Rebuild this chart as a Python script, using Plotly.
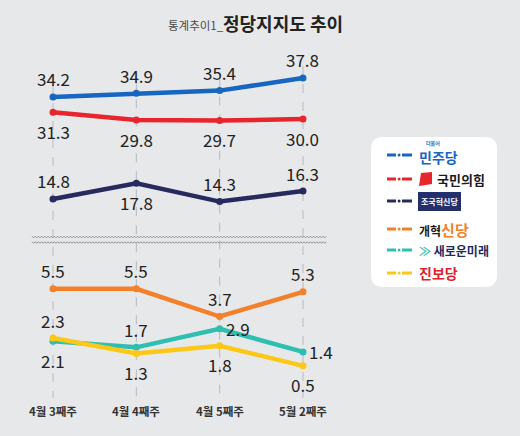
import plotly.graph_objects as go

# ---------------- data ----------------
categories = ["4월 3째주", "4월 4째주", "4월 5째주", "5월 2째주"]
parties = ["민주당", "국민의힘", "조국혁신당", "개혁신당", "새로운미래", "진보당"]
minju = [34.2, 34.9, 35.4, 37.8]
ppp = [31.3, 29.8, 29.7, 30.0]
jokuk = [14.8, 17.8, 14.3, 16.3]
gaehyuk = [5.5, 5.5, 3.7, 5.3]
saeroun = [2.1, 1.7, 2.9, 1.4]
jinbo = [2.3, 1.3, 1.8, 0.5]
title_small = "통계추이1_"
title_main = "정당지지도 추이"

# ---------------- style ----------------
W, H = 520, 436
BG = "#e7e8ea"
colors = {"민주당": "#1766c0", "국민의힘": "#e8252d", "조국혁신당": "#262a5c",
          "개혁신당": "#f3802a", "새로운미래": "#2fbfb0", "진보당": "#fcc817"}
FONT = "Noto Sans CJK KR"

def px(x):
    return x / W

def py(y):
    return 1 - y / H

# axes geometry (pixels)
X0_PIX, XSTEP = 53.0, 83.33
xr = [-X0_PIX / XSTEP, (W - X0_PIX) / XSTEP]
TOP_DOM = (60, 215)
TOP_RANGE = [11.75, 41.22]
BOT_DOM = (245, 380)
BOT_RANGE = [-0.42, 8.34]

def top_pix(v):
    return TOP_DOM[1] - (v - TOP_RANGE[0]) / (TOP_RANGE[1] - TOP_RANGE[0]) * (TOP_DOM[1] - TOP_DOM[0])

xs = list(range(len(categories)))
series_top = [("민주당", minju, ["a", "a", "a", "a"]),
              ("국민의힘", ppp, ["b", "b", "b", "b"]),
              ("조국혁신당", jokuk, ["a", "b", "a", "a"])]
series_bot = [("개혁신당", gaehyuk, ["a", "a", "a", "a"]),
              ("새로운미래", saeroun, ["b", "a", "r", "r"]),
              ("진보당", jinbo, ["a", "b", "b", "b"])]

fig = go.Figure()
annotations = []
shapes = []

# gridlines
for i in xs:
    shapes.append(dict(type="line", xref="x", yref="paper", x0=i, x1=i,
                       y0=py(top_pix(minju[i]) - 12), y1=py(398),
                       line=dict(color="#b9babd", width=1, dash="dash"), layer="below"))

def add_series(name, vals, pos, xa, ya):
    fig.add_trace(go.Scatter(x=xs, y=vals, mode="lines+markers", name=name,
                             line=dict(color=colors[name], width=4.5),
                             marker=dict(color=colors[name], size=7),
                             xaxis=xa, yaxis=ya, showlegend=False))
    for i, v in enumerate(vals):
        p = pos[i]
        ys = 18 if p == "a" else (-19 if p == "b" else 0)
        xsh = 18 if p == "r" else 0
        annotations.append(dict(x=i, y=v, xref=xa, yref=ya, text=f"{v:.1f}",
                                showarrow=False, yshift=ys, xshift=xsh,
                                font=dict(family=FONT, size=17, color="#222")))

for name, vals, pos in series_top:
    add_series(name, vals, pos, "x", "y")
for name, vals, pos in series_bot:
    add_series(name, vals, pos, "x2", "y2")

# x category labels
for i, c in enumerate(categories):
    annotations.append(dict(x=i, y=py(411), xref="x", yref="paper", text=f"<b>{c}</b>",
                            showarrow=False, yanchor="middle",
                            font=dict(family=FONT, size=11.5, color="#333")))

# axis break (zigzag double line)
for yb in (237, 242.5):
    pts = []
    x = 32.0
    k = 0
    while x <= 327:
        pts.append(f"{px(x):.5f},{py(yb + (0.8 if k % 2 else -0.8)):.5f}")
        x += 1.6
        k += 1
    shapes.append(dict(type="path", xref="paper", yref="paper",
                       path="M" + " L".join(pts),
                       line=dict(color="#8e8f92", width=1)))

# title
annotations.append(dict(x=px(226), y=py(25), xref="paper", yref="paper", showarrow=False,
                        text=title_small, xanchor="right", yanchor="middle",
                        font=dict(family=FONT, size=11.5, color="#4a4a4a")))
annotations.append(dict(x=px(221), y=py(23), xref="paper", yref="paper", showarrow=False,
                        text=f"<b>{title_main}</b>", xanchor="left", yanchor="middle",
                        font=dict(family=FONT, size=18, color="#222")))

# legend box (rounded)
lx0, lx1, ly0, ly1, r = 371, 497, 137, 287, 12
path = (f"M{px(lx0 + r)},{py(ly0)} L{px(lx1 - r)},{py(ly0)} "
        f"Q{px(lx1)},{py(ly0)} {px(lx1)},{py(ly0 + r)} L{px(lx1)},{py(ly1 - r)} "
        f"Q{px(lx1)},{py(ly1)} {px(lx1 - r)},{py(ly1)} L{px(lx0 + r)},{py(ly1)} "
        f"Q{px(lx0)},{py(ly1)} {px(lx0)},{py(ly1 - r)} L{px(lx0)},{py(ly0 + r)} "
        f"Q{px(lx0)},{py(ly0)} {px(lx0 + r)},{py(ly0)} Z")
shapes.append(dict(type="path", xref="paper", yref="paper", path=path,
                   fillcolor="white", line=dict(width=0), layer="below"))

rows = [155, 179, 201, 229, 250, 273]
for name, yr in zip(parties, rows):
    c = colors[name]
    for a, b in ((387, 396), (402, 412)):
        shapes.append(dict(type="line", xref="paper", yref="paper",
                           x0=px(a), x1=px(b), y0=py(yr), y1=py(yr),
                           line=dict(color=c, width=3)))
    shapes.append(dict(type="circle", xref="paper", yref="paper",
                       x0=px(397.6), x1=px(400.6), y0=py(yr - 1.5), y1=py(yr + 1.5),
                       fillcolor=c, line=dict(width=0)))

def leg_text(x, y, text, size=13, color="#222"):
    annotations.append(dict(x=px(x), y=py(y), xref="paper", yref="paper", text=text,
                            showarrow=False, xanchor="left", yanchor="middle",
                            font=dict(family=FONT, size=size, color=color)))

# 민주당
leg_text(424, rows[0] - 12, "<b>더불어</b>", size=5, color=colors["민주당"])
leg_text(417, rows[0] + 2, f"<b>{parties[0]}</b>", size=14, color=colors["민주당"])
# 국민의힘
shapes.append(dict(type="path", xref="paper", yref="paper",
                   path=f"M{px(421)},{py(rows[1] - 6)} L{px(432)},{py(rows[1] - 7)} "
                        f"L{px(432)},{py(rows[1] + 5)} L{px(419)},{py(rows[1] + 7)} Z",
                   fillcolor=colors["국민의힘"], line=dict(width=0)))
leg_text(435, rows[1], f"<b>{parties[1]}</b>", size=13, color="#1b1b1b")
# 조국혁신당
shapes.append(dict(type="rect", xref="paper", yref="paper",
                   x0=px(418), x1=px(461), y0=py(rows[2] - 9), y1=py(rows[2] + 10),
                   fillcolor="#24306e", line=dict(width=0)))
annotations.append(dict(x=px(439.5), y=py(rows[2]), xref="paper", yref="paper",
                        text=f"<b>{parties[2]}</b>", showarrow=False,
                        xanchor="center", yanchor="middle",
                        font=dict(family=FONT, size=8, color="white")))
# 개혁신당
leg_text(417, rows[3], f'<b>{parties[3][:2]}<span style="color:{colors["개혁신당"]};font-size:15px">'
                       f'{parties[3][2:]}</span></b>', size=12, color="#1b1b1b")
# 새로운미래
leg_text(417, rows[4], f'<b><span style="color:{colors["새로운미래"]}">≫</span> '
                       f'<span style="color:#1f2a5c">{parties[4]}</span></b>', size=12)
# 진보당
leg_text(417, rows[5], f"<b>{parties[5]}</b>", size=14, color="#e0232b")

fig.update_layout(
    width=W, height=H, margin=dict(l=0, r=0, t=0, b=0),
    paper_bgcolor=BG, plot_bgcolor="rgba(0,0,0,0)",
    xaxis=dict(domain=[0, 1], range=xr, visible=False, fixedrange=True),
    xaxis2=dict(domain=[0, 1], range=xr, visible=False, anchor="y2", matches="x"),
    yaxis=dict(domain=[py(TOP_DOM[1]), py(TOP_DOM[0])], range=TOP_RANGE, visible=False),
    yaxis2=dict(domain=[py(BOT_DOM[1]), py(BOT_DOM[0])], range=BOT_RANGE, visible=False,
                anchor="x2"),
    annotations=annotations, shapes=shapes, showlegend=False,
)

fig.write_html("out.html", config={"displayModeBar": False},
               post_script="document.body.style.margin='0px';document.body.style.overflow='hidden';")
